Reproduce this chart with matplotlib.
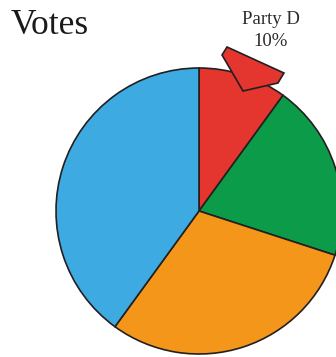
import matplotlib
matplotlib.use("Agg")
import matplotlib.pyplot as plt
from matplotlib.patches import Polygon

# Vote shares, clockwise from 12 o'clock
parties = ["Party D", "Party C", "Party B", "Party A"]
shares = [10, 20, 30, 40]
colors = ["#E4352E", "#0C9B48", "#F4961A", "#3EAAE2"]
highlight = "Party D"

# Callout pointer outline, in units of the pie radius
callout_x = [0.196, 0.594, 0.552, 0.308, 0.161]
callout_y = [1.147, 0.965, 0.895, 0.839, 1.091]

W, H, DPI = 336, 357, 100
cx, cy, R = 199, 211, 143  # pie centre and radius in pixels

fig = plt.figure(figsize=(W / DPI, H / DPI), dpi=DPI)
ax = fig.add_axes([0, 0, 1, 1])
ax.pie(shares, colors=colors, startangle=90, counterclock=False,
       radius=1.0,
       wedgeprops=dict(edgecolor="#231F20", linewidth=1.2))
ax.set_xlim(-cx / R, (W - cx) / R)
ax.set_ylim((cy - H) / R, cy / R)
ax.set_aspect("auto")
ax.axis("off")

idx = parties.index(highlight)
ax.add_patch(Polygon(list(zip(callout_x, callout_y)), closed=True,
                     facecolor=colors[idx], edgecolor="#231F20",
                     linewidth=1.2, zorder=5))

serif = ["Liberation Serif", "DejaVu Serif"]
lx = (271 - cx) / R
ax.text(lx, (cy - 20) / R, highlight, ha="center", va="center",
        fontsize=13.5, family=serif, color="#2b2b2b")
ax.text(lx, (cy - 42) / R, f"{shares[idx]}%", ha="center", va="center",
        fontsize=13.5, family=serif, color="#2b2b2b")

fig.text(11 / W, 1 - 34 / H, "Votes", ha="left", va="baseline",
         fontsize=25.5, family=serif, color="#1a1a1a")

fig.savefig("out.png", dpi=DPI, facecolor="white")
